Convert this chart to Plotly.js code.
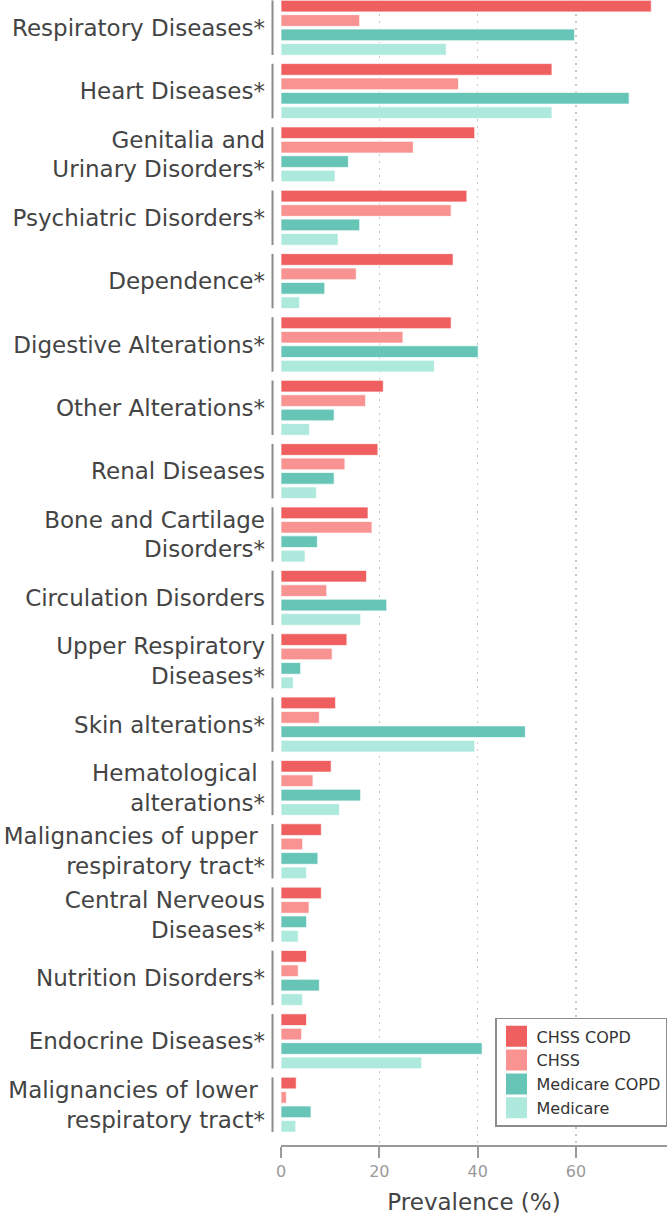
<!DOCTYPE html>
<html>
<head>
<meta charset="utf-8">
<script src="https://cdn.plot.ly/plotly-3.0.1.min.js"></script>
<style>html,body{margin:0;padding:0;background:#fff;}#chart{width:669px;height:1218px;}</style>
</head>
<body>
<div id="chart"></div>
<script>
var categories = [
  "Respiratory Diseases*",
  "Heart Diseases*",
  "Genitalia and<br>Urinary Disorders*",
  "Psychiatric Disorders*",
  "Dependence*",
  "Digestive Alterations*",
  "Other Alterations*",
  "Renal Diseases",
  "Bone and Cartilage<br>Disorders*",
  "Circulation Disorders",
  "Upper Respiratory<br>Diseases*",
  "Skin alterations*",
  "Hematological\u00a0<br>alterations*",
  "Malignancies of upper\u00a0<br>respiratory tract*",
  "Central Nerveous<br>Diseases*",
  "Nutrition Disorders*",
  "Endocrine Diseases*",
  "Malignancies of lower\u00a0<br>respiratory tract*"
];
var seriesNames = ["CHSS COPD", "CHSS", "Medicare COPD", "Medicare"];
var chssCopd = [75.3, 55.1, 39.4, 37.8, 35.0, 34.6, 20.8, 19.7, 17.7, 17.4, 13.4, 11.1, 10.2, 8.2, 8.2, 5.2, 5.2, 3.1];
var chss     = [16.0, 36.1, 26.9, 34.6, 15.3, 24.8, 17.2, 13.0, 18.5, 9.3, 10.4, 7.8, 6.5, 4.4, 5.7, 3.5, 4.2, 1.1];
var medicareCopd = [59.7, 70.8, 13.7, 16.0, 8.9, 40.1, 10.8, 10.8, 7.4, 21.5, 4.0, 49.7, 16.2, 7.5, 5.2, 7.8, 40.9, 6.1];
var medicare = [33.6, 55.1, 11.0, 11.6, 3.8, 31.2, 5.8, 7.2, 4.9, 16.2, 2.5, 39.4, 11.9, 5.2, 3.5, 4.4, 28.6, 3.0];
var xTickVals = [0, 20, 40, 60];

var colors = ["#ef5f5f", "#f99392", "#66c5b7", "#aee9dd"];
var allSeries = [chssCopd, chss, medicareCopd, medicare];

var traces = [];
allSeries.forEach(function (vals, i) {
  traces.push({
    type: "bar",
    orientation: "h",
    name: seriesNames[i],
    x: vals,
    y: categories,
    marker: {color: colors[i], line: {color: "rgba(255,255,255,0.7)", width: 1}},
    showlegend: false,
    hoverinfo: "x+name"
  });
});
// legend entries (larger square swatches)
allSeries.forEach(function (vals, i) {
  traces.push({
    type: "scatter",
    mode: "markers",
    name: seriesNames[i],
    x: [null],
    y: [null],
    marker: {symbol: "square", size: 16, color: colors[i], line: {color: colors[i], width: 5}},
    showlegend: true,
    hoverinfo: "skip"
  });
});

var shapes = categories.map(function (c, i) {
  return {
    type: "line", xref: "paper", yref: "y",
    x0: -0.022, x1: -0.022, y0: i - 0.43, y1: i + 0.43,
    line: {color: "#8a8a8a", width: 2}
  };
});

var layout = {
  width: 669, height: 1218,
  margin: {l: 281, r: 2, t: 0, b: 73, pad: 0},
  paper_bgcolor: "#fff",
  plot_bgcolor: "#fff",
  font: {family: "DejaVu Sans, sans-serif", color: "#444"},
  barmode: "group",
  bargap: 0.09,
  bargroupgap: 0.19,
  showlegend: true,
  legend: {
    x: 1, xanchor: "right", y: 0.111, yanchor: "top",
    bgcolor: "#fff", bordercolor: "#8c8c8c", borderwidth: 1.5,
    font: {size: 16, color: "#333", family: "DejaVu Sans, sans-serif"},
    traceorder: "normal", itemclick: false
  },
  xaxis: {
    range: [0, 78.5],
    tickvals: xTickVals,
    ticktext: xTickVals.map(String),
    showgrid: true, gridcolor: "#c8c8c8", gridwidth: 1.2, griddash: "2px,5px",
    zeroline: true, zerolinecolor: "rgba(0,0,0,0)", zerolinewidth: 0,
    showline: true, linecolor: "#9a9a9a", linewidth: 2,
    ticks: "outside", ticklen: 11, tickwidth: 2, tickcolor: "#9a9a9a",
    tickfont: {size: 16, color: "#9a9a9a"},
    title: {text: "Prevalence (%)", font: {size: 23, color: "#444"}, standoff: 14},
    fixedrange: true
  },
  yaxis: {
    type: "category",
    categoryorder: "array",
    categoryarray: categories,
    range: [17.637, -0.437],
    showgrid: false, zeroline: false, showline: false,
    ticks: "", ticklabelstandoff: 15,
    tickfont: {size: 23, color: "#444"},
    fixedrange: true
  },
  shapes: shapes
};

Plotly.newPlot("chart", traces, layout, {displayModeBar: false, staticPlot: true});
</script>
</body>
</html>
